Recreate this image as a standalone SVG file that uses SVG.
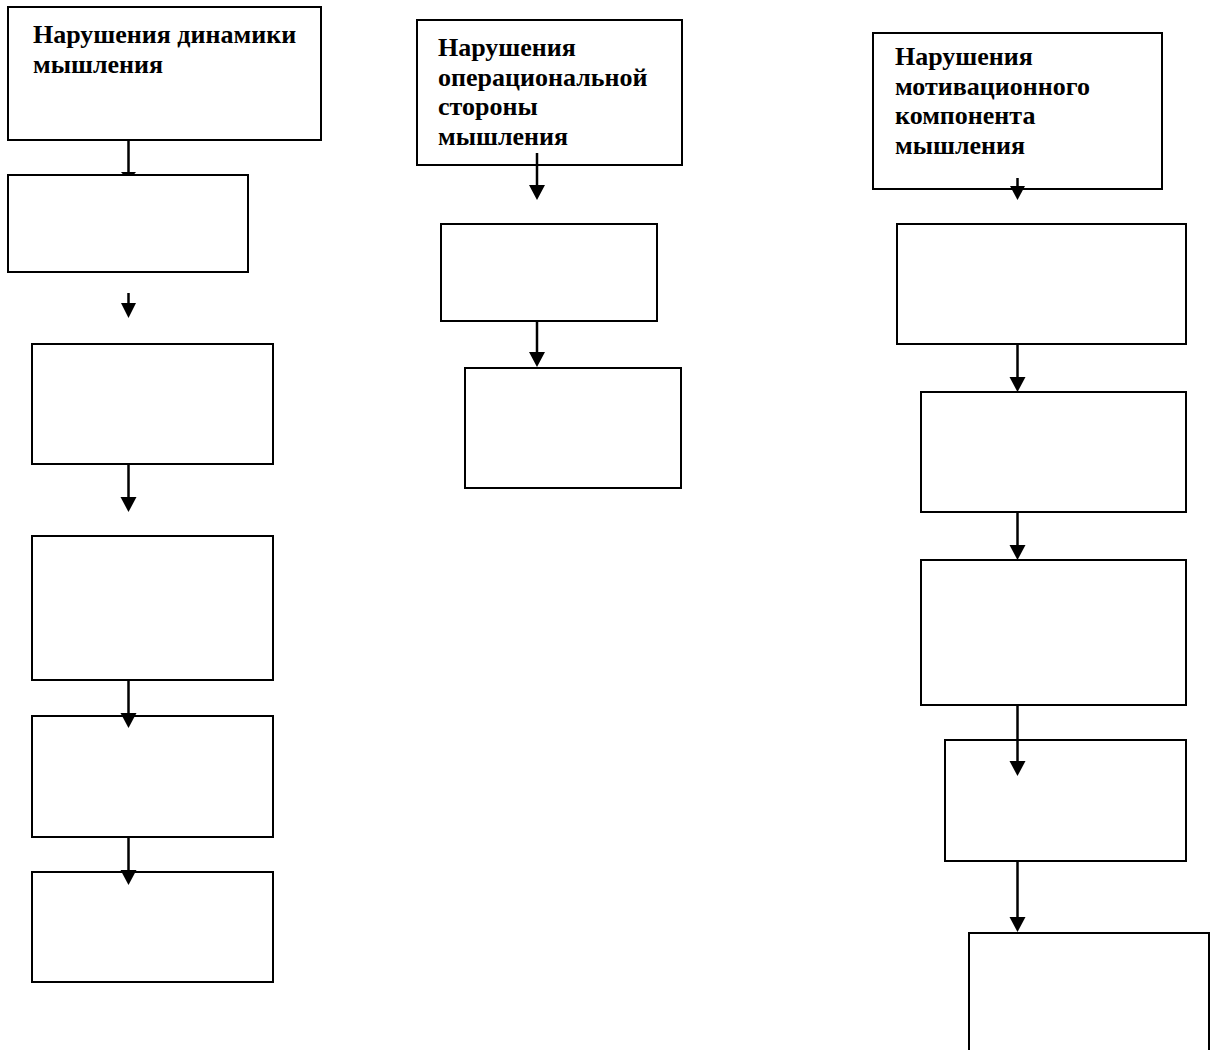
<svg xmlns="http://www.w3.org/2000/svg" width="1211" height="1050" viewBox="0 0 1211 1050">
<defs>
<style>
.box{fill:#fff;stroke:#000;stroke-width:2}
.lbl{font-family:"Liberation Serif","Times New Roman",serif;font-weight:bold;font-size:26px;fill:#000}
.con{stroke:#000;stroke-width:2.5;fill:none}
.head{fill:#000;stroke:none}
</style>
</defs>
<rect width="1211" height="1050" fill="#fff"/>
<g id="nodes">
<g id="n-dyn"><rect class="box" x="8" y="7" width="313" height="133"/>
<text class="lbl" x="33" y="43">Нарушения динамики</text>
<text class="lbl" x="33" y="73">мышления</text></g>
<g id="n-dyn1"><rect class="box" x="8" y="175" width="240" height="97"/></g>
<g id="n-dyn2"><rect class="box" x="32" y="344" width="241" height="120"/></g>
<g id="n-dyn3"><rect class="box" x="32" y="536" width="241" height="144"/></g>
<g id="n-dyn4"><rect class="box" x="32" y="716" width="241" height="121"/></g>
<g id="n-dyn5"><rect class="box" x="32" y="872" width="241" height="110"/></g>
<g id="n-op"><rect class="box" x="417" y="20" width="265" height="145"/>
<text class="lbl" x="438" y="56">Нарушения</text>
<text class="lbl" x="438" y="86">операциональной</text>
<text class="lbl" x="438" y="115">стороны</text>
<text class="lbl" x="438" y="145">мышления</text></g>
<g id="n-op1"><rect class="box" x="441" y="224" width="216" height="97"/></g>
<g id="n-op2"><rect class="box" x="465" y="368" width="216" height="120"/></g>
<g id="n-mot"><rect class="box" x="873" y="33" width="289" height="156"/>
<text class="lbl" x="895" y="65">Нарушения</text>
<text class="lbl" x="895" y="95">мотивационного</text>
<text class="lbl" x="895" y="124">компонента</text>
<text class="lbl" x="895" y="154">мышления</text></g>
<g id="n-mot1"><rect class="box" x="897" y="224" width="289" height="120"/></g>
<g id="n-mot2"><rect class="box" x="921" y="392" width="265" height="120"/></g>
<g id="n-mot3"><rect class="box" x="921" y="560" width="265" height="145"/></g>
<g id="n-mot4"><rect class="box" x="945" y="740" width="241" height="121"/></g>
<g id="n-mot5"><rect class="box" x="969" y="933" width="240" height="130"/></g>
</g>
<g id="connectors">
<line class="con" x1="128.5" y1="141" x2="128.5" y2="172"/>
<polygon class="head" points="121,172 136,172 133.5,175 123.5,175"/>
<line class="con" x1="128.5" y1="293" x2="128.5" y2="304"/>
<polygon class="head" points="121,303 136,303 128.5,318"/>
<line class="con" x1="128.5" y1="465" x2="128.5" y2="498"/>
<polygon class="head" points="120.5,497 136.5,497 128.5,512"/>
<line class="con" x1="128.5" y1="681" x2="128.5" y2="714"/>
<polygon class="head" points="120.5,713 136.5,713 128.5,728"/>
<line class="con" x1="128.5" y1="838" x2="128.5" y2="871"/>
<polygon class="head" points="120.5,870 136.5,870 128.5,885"/>
<line class="con" x1="537" y1="153" x2="537" y2="186"/>
<polygon class="head" points="529,185 545,185 537,200"/>
<line class="con" x1="537" y1="322" x2="537" y2="353"/>
<polygon class="head" points="529,352 545,352 537,367"/>
<line class="con" x1="1017.5" y1="178" x2="1017.5" y2="187"/>
<polygon class="head" points="1010,186 1025,186 1017.5,200"/>
<line class="con" x1="1017.5" y1="345" x2="1017.5" y2="378"/>
<polygon class="head" points="1009.5,377 1025.5,377 1017.5,392"/>
<line class="con" x1="1017.5" y1="513" x2="1017.5" y2="546"/>
<polygon class="head" points="1009.5,545 1025.5,545 1017.5,560"/>
<line class="con" x1="1017.5" y1="706" x2="1017.5" y2="762"/>
<polygon class="head" points="1009.5,761 1025.5,761 1017.5,776"/>
<line class="con" x1="1017.5" y1="862" x2="1017.5" y2="918"/>
<polygon class="head" points="1009.5,917 1025.5,917 1017.5,932"/>
</g>
</svg>
